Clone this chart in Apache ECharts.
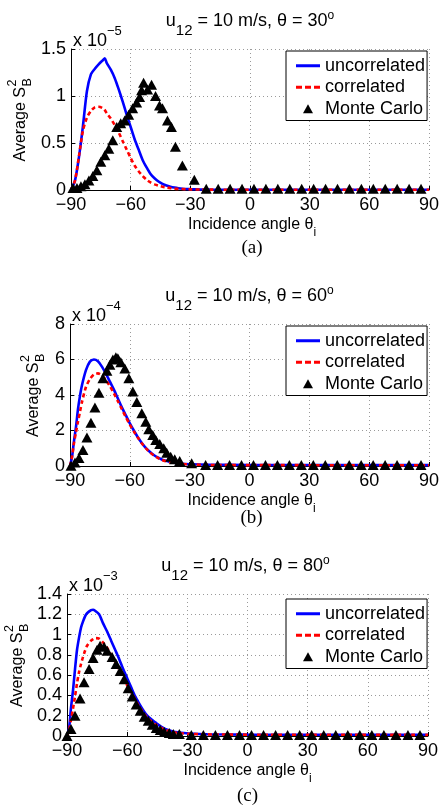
<!DOCTYPE html>
<html><head><meta charset="utf-8">
<script src="https://cdn.jsdelivr.net/npm/echarts@6/dist/echarts.min.js"></script>
<style>html,body{margin:0;padding:0;background:#fff}#c{width:442px;height:810px}</style>
</head><body><div id="c"></div>
<script>
// ---------- data (y values in units of the axis multiplier) ----------
const xTickLabels = [-90, -60, -30, 0, 30, 60, 90];
const thetaValues = [30, 60, 80];
const exponents = ['−5', '−4', '−3'];
const captions = ['(a)', '(b)', '(c)'];
const seriesNames = ['uncorrelated', 'correlated', 'Monte Carlo'];

// Panel (a) theta = 30, x 1e-5
const angleA = [-90,-88,-86,-84,-82,-80,-78,-76,-74,-73,-72,-70,-68,-66,-64,-62,-60,-58,-56,-54,-52,-50,-48,-46,-44,-42,-40,-38,-36,-34,-32,-30,-25,-20,-10,0,30,60,90];
const uncorrA = [0,0.10,0.35,0.68,1.05,1.23,1.29,1.34,1.38,1.40,1.35,1.28,1.19,1.07,0.94,0.80,0.67,0.54,0.43,0.32,0.24,0.17,0.125,0.09,0.065,0.047,0.035,0.026,0.019,0.014,0.011,0.009,0.006,0.004,0.003,0.002,0.002,0.002,0.002];
const corrA = [0,0.10,0.36,0.63,0.77,0.84,0.88,0.885,0.87,0.85,0.815,0.76,0.69,0.61,0.52,0.43,0.34,0.26,0.20,0.15,0.11,0.08,0.06,0.045,0.035,0.027,0.02,0.015,0.012,0.01,0.008,0.007,0.005,0.004,0.002,0.002,0.002,0.002,0.002];
const mcAngleA = [-89,-87,-85,-83,-81,-79,-77,-75,-73,-71,-69,-67,-65,-63,-61,-59,-57,-55.5,-54.5,-53.5,-51.5,-49.5,-47.5,-45.5,-44,-41.5,-39.5,-37.5,-34,-28,-22,-16,-10,-4,2,8,14,20,26,32,38,44,50,56,62,68,74,80,86];
const mcA = [0.02,0.02,0.04,0.06,0.10,0.15,0.21,0.30,0.37,0.44,0.53,0.67,0.71,0.74,0.80,0.87,0.93,0.99,1.06,1.14,1.07,1.12,1.00,0.90,0.87,0.74,0.67,0.46,0.26,0.11,0.012,0.012,0.012,0.012,0.012,0.012,0.012,0.012,0.012,0.012,0.012,0.012,0.012,0.012,0.012,0.012,0.012,0.012,0.012];

// Panel (b) theta = 60, x 1e-4
const angleB = [-90,-89,-88,-87,-86,-85,-84,-82,-80,-78,-76,-74,-72,-70,-68,-66,-64,-62,-60,-58,-56,-54,-52,-50,-48,-46,-44,-42,-40,-37,-34,-30,-20,0,90];
const uncorrB = [0,0.5,1.4,2.2,3.2,3.95,4.55,5.4,5.88,6.0,5.9,5.6,5.2,4.75,4.3,3.8,3.3,2.85,2.4,2.0,1.62,1.3,1.02,0.8,0.62,0.48,0.37,0.29,0.23,0.17,0.13,0.1,0.07,0.06,0.05];
const corrB = [0,0.5,1.3,1.9,2.5,3.05,3.6,4.45,4.9,5.15,5.22,5.1,4.85,4.5,4.1,3.65,3.2,2.75,2.33,1.95,1.6,1.28,1.0,0.78,0.6,0.46,0.35,0.27,0.21,0.16,0.12,0.09,0.06,0.05,0.04];
const mcAngleB = [-89.5,-87.5,-85.5,-83.5,-81.5,-79.5,-77.5,-75.5,-73.5,-71.5,-70,-68.5,-67,-66,-64.5,-62.5,-60.5,-58.5,-56.5,-54,-52,-50.5,-48.5,-47,-45,-43,-41.5,-39.5,-37.5,-35,-29,-22,-16,-10,-4,2,8,14,20,26,32,38,44,50,56,62,68,74,80,86];
const mcB = [0.02,0.2,0.45,0.9,1.6,2.44,3.3,4.13,4.94,5.37,5.7,6.0,6.12,6.07,5.85,5.5,4.94,4.2,3.6,2.97,2.5,2.07,1.75,1.46,1.24,1.0,0.75,0.52,0.38,0.28,0.15,0.05,0.05,0.05,0.05,0.05,0.05,0.05,0.05,0.05,0.05,0.05,0.05,0.05,0.05,0.05,0.05,0.05,0.05,0.05];

// Panel (c) theta = 80, x 1e-3
const angleC = [-90,-89,-88,-87,-86,-85,-84,-83,-82,-81,-80,-78,-77,-76,-74,-72,-70,-68,-66,-64,-62,-60,-58,-56,-54,-52,-50,-48,-46,-44,-42,-40,-38,-36,-33,-29,-20,0,90];
const uncorrC = [0,0.07,0.28,0.45,0.66,0.85,0.97,1.07,1.13,1.18,1.21,1.24,1.245,1.235,1.2,1.11,1.03,0.94,0.85,0.76,0.66,0.57,0.48,0.39,0.32,0.255,0.20,0.165,0.135,0.105,0.08,0.062,0.05,0.04,0.032,0.024,0.017,0.014,0.012];
const corrC = [0,0.05,0.16,0.27,0.39,0.52,0.63,0.71,0.78,0.84,0.89,0.94,0.955,0.965,0.96,0.92,0.87,0.80,0.73,0.65,0.57,0.50,0.43,0.36,0.29,0.23,0.18,0.145,0.115,0.09,0.07,0.054,0.043,0.035,0.027,0.021,0.016,0.013,0.011];
const mcAngleC = [-90,-88,-86,-83.5,-81.5,-79,-77,-75,-73.5,-71.5,-70,-67.5,-65.5,-63.5,-61.5,-59.5,-57.5,-55.5,-53.5,-51.5,-49.5,-47.5,-45.5,-43.5,-41.5,-39,-37,-34,-28,-22,-16,-10,-4,2,8,14,20,26,32,38,44,50,56,62,68,74,80,86];
const mcC = [0,0.07,0.2,0.37,0.53,0.66,0.77,0.85,0.89,0.88,0.84,0.78,0.71,0.64,0.56,0.47,0.39,0.31,0.25,0.19,0.15,0.11,0.08,0.06,0.04,0.03,0.02,0.02,0.01,0.01,0.01,0.01,0.01,0.01,0.01,0.01,0.01,0.01,0.01,0.01,0.01,0.01,0.01,0.01,0.01,0.01,0.01,0.01];

const yMaxes = [1.5, 8, 1.4];
const ySteps = [0.5, 2, 0.2];

// ---------- layout ----------
const FONT = '"Liberation Sans", Arial, Helvetica, sans-serif';
const layout = [
  {grid: {left: 71, top: 49, width: 362, height: 141}, yNameX: 21, capY: 248, legendTop: 51},
  {grid: {left: 70, top: 324, width: 363, height: 142}, yNameX: 34, capY: 518, legendTop: 326},
  {grid: {left: 67, top: 594, width: 361, height: 142}, yNameX: 18, capY: 796, legendTop: 599}
];
const dataSets = [
  {ang: angleA, unc: uncorrA, cor: corrA, mcAng: mcAngleA, mc: mcA},
  {ang: angleB, unc: uncorrB, cor: corrB, mcAng: mcAngleB, mc: mcB},
  {ang: angleC, unc: uncorrC, cor: corrC, mcAng: mcAngleC, mc: mcC}
];

const minusFmt = v => String(v).replace('-', '−');
const grids = [], xAxes = [], yAxes = [], series = [], legends = [], graphics = [];
const gridLine = {show: true, lineStyle: {color: '#9a9a9a', type: [1, 3], width: 1}};

layout.forEach((L, i) => {
  const g = L.grid;
  grids.push({left: g.left, top: g.top, width: g.width, height: g.height, containLabel: false});
  xAxes.push({
    type: 'value', gridIndex: i, min: xTickLabels[0], max: xTickLabels[xTickLabels.length - 1], interval: 30,
    axisLine: {show: true, onZero: false, lineStyle: {color: '#000', width: 1}},
    axisTick: {show: true, inside: true, length: 4, lineStyle: {color: '#000'}},
    axisLabel: {fontSize: 18, color: '#000', fontFamily: FONT, margin: 6, formatter: minusFmt},
    splitLine: gridLine
  });
  yAxes.push({
    type: 'value', gridIndex: i, min: 0, max: yMaxes[i], interval: ySteps[i],
    axisLine: {show: true, onZero: false, lineStyle: {color: '#000', width: 1}},
    axisTick: {show: true, inside: true, length: 4, lineStyle: {color: '#000'}},
    axisLabel: {fontSize: 18, color: '#000', fontFamily: FONT, margin: 5},
    splitLine: gridLine
  });
  const d = dataSets[i];
  series.push({
    name: seriesNames[0], type: 'line', xAxisIndex: i, yAxisIndex: i,
    data: d.ang.map((a, k) => [a, d.unc[k]]), symbol: 'none', smooth: 0.25,
    color: '#0000ff', lineStyle: {color: '#0000ff', width: 2.6}, z: 2
  });
  series.push({
    name: seriesNames[1], type: 'line', xAxisIndex: i, yAxisIndex: i,
    data: d.ang.map((a, k) => [a, d.cor[k]]), symbol: 'none', smooth: 0.25,
    color: '#ff0000', lineStyle: {color: '#ff0000', width: 2.6, type: [4, 3]}, z: 3
  });
  series.push({
    name: seriesNames[2], type: 'scatter', xAxisIndex: i, yAxisIndex: i,
    data: d.mcAng.map((a, k) => [a, d.mc[k]]), symbol: 'triangle', symbolSize: [11, 10],
    color: '#000', itemStyle: {color: '#000', opacity: 1}, z: 4
  });
  legends.push({
    left: 286, top: L.legendTop, orient: 'vertical',
    backgroundColor: '#fff', borderColor: '#000', borderWidth: 1,
    padding: [4, 2, 1, 10], itemGap: 0, itemWidth: 24, itemHeight: 9,
    textStyle: {fontSize: 18, color: '#000', fontFamily: FONT, lineHeight: 21.5},
    data: [
      {name: seriesNames[0], icon: 'path://M0,0h24v3h-24z', itemStyle: {color: '#0000ff'}},
      {name: seriesNames[1], icon: 'path://M0,0h6v3h-6z M9,0h6v3h-6z M18,0h6v3h-6z', itemStyle: {color: '#ff0000'}},
      {name: seriesNames[2], icon: 'path://M5,0L10,9L0,9Z', itemStyle: {color: '#000'}}
    ],
    selectedMode: false, z: 10
  });
  const cx = g.left + g.width / 2;
  // title
  graphics.push({
    type: 'text', x: cx - 2, y: g.top - 28,
    style: {
      text: 'u{sub|12} = 10 m/s, θ = ' + thetaValues[i] + '{sup|o}',
      fontSize: 18, fontFamily: FONT, fill: '#000', align: 'center', verticalAlign: 'middle',
      rich: {sub: {fontSize: 15, fontFamily: FONT, padding: [20, 0, 0, 0]}, sup: {fontSize: 12, fontFamily: FONT, padding: [0, 0, 10, 0]}}
    }
  });
  // multiplier
  graphics.push({
    type: 'text', x: g.left + 2, y: g.top - 8,
    style: {
      text: 'x 10{sup|' + exponents[i] + '}', fontSize: 18, fontFamily: FONT, fill: '#000', align: 'left', verticalAlign: 'middle',
      rich: {sup: {fontSize: 13, fontFamily: FONT, padding: [0, 0, 20, 0]}}
    }
  });
  // x axis name
  graphics.push({
    type: 'text', x: cx, y: g.top + g.height + 35,
    style: {
      text: 'Incidence angle θ{sub|i}', fontSize: 16, fontFamily: FONT, fill: '#000', align: 'center', verticalAlign: 'middle',
      rich: {sub: {fontSize: 12, fontFamily: FONT, padding: [16, 0, 0, 0]}}
    }
  });
  // y axis name (rotated)
  graphics.push({
    type: 'group', x: L.yNameX, y: g.top + g.height / 2, rotation: Math.PI / 2,
    children: [
      {type: 'text', x: -42, y: 0, style: {text: 'Average S', fontSize: 16, fontFamily: FONT, fill: '#000', align: 'left', verticalAlign: 'middle'}},
      {type: 'text', x: 33, y: 7, style: {text: 'B', fontSize: 12.5, fontFamily: FONT, fill: '#000', align: 'left', verticalAlign: 'middle'}},
      {type: 'text', x: 33, y: -8, style: {text: '2', fontSize: 12.5, fontFamily: FONT, fill: '#000', align: 'left', verticalAlign: 'middle'}}
    ]
  });
  // caption
  graphics.push({
    type: 'text', x: cx, y: L.capY,
    style: {text: captions[i], fontSize: 19, fontFamily: '"Liberation Serif", "DejaVu Serif", serif', fill: '#000', align: 'center', verticalAlign: 'middle'}
  });
});

const chart = echarts.init(document.getElementById('c'), null, {renderer: 'canvas'});
chart.setOption({
  animation: false,
  backgroundColor: '#fff',
  grid: grids, xAxis: xAxes, yAxis: yAxes, series: series, legend: legends,
  graphic: graphics
});
</script>
</body></html>
